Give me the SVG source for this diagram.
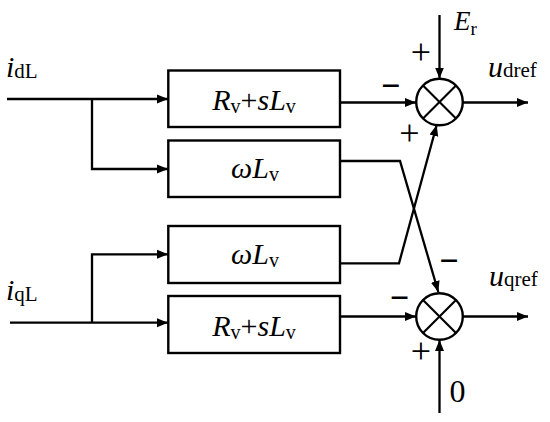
<svg xmlns="http://www.w3.org/2000/svg" width="550" height="422" viewBox="0 0 550 422">
<defs>
<marker id="arr" markerUnits="userSpaceOnUse" markerWidth="12" markerHeight="10" refX="11" refY="5" orient="auto">
<path d="M0,0.5 L11,5 L0,9.5 z" fill="#000"/>
</marker>
<style>
.ln{fill:none;stroke:#000;stroke-width:2.3;}
.box{fill:#fff;stroke:#000;stroke-width:2.4;}
.sum{fill:#fff;stroke:#000;stroke-width:2.4;}
.x{stroke:#000;stroke-width:2.2;}
text{font-family:"Liberation Serif","Times New Roman",serif;fill:#000;}
.bt{font-size:30px;}
.it{font-style:italic;}
.bs{font-size:20px;font-style:normal;}
.lb{font-size:30px;}
.ls{font-size:21px;font-style:normal;}
.pm{font-size:36px;}
.mn{font-size:34px;font-weight:bold;}
</style>
</defs>
<rect width="550" height="422" fill="#fff"/>

<g id="connectors">
<path class="ln" d="M7,99 H168" marker-end="url(#arr)"/>
<path class="ln" d="M92,99 V169 H168" marker-end="url(#arr)"/>
<path class="ln" d="M10,322.7 H168" marker-end="url(#arr)"/>
<path class="ln" d="M92,322.7 V254.3 H168" marker-end="url(#arr)"/>
<path class="ln" d="M340,102.5 H416" marker-end="url(#arr)"/>
<path class="ln" d="M439.5,15 V78.5" marker-end="url(#arr)"/>
<path class="ln" d="M463,102.5 H528" marker-end="url(#arr)"/>
<path class="ln" d="M340,161 H400 L438.3,292" marker-end="url(#arr)"/>
<path class="ln" d="M340,263.3 H399 L436.7,125" marker-end="url(#arr)"/>
<path class="ln" d="M340,316.5 H416" marker-end="url(#arr)"/>
<path class="ln" d="M439.5,413 V340" marker-end="url(#arr)"/>
<path class="ln" d="M463,316.5 H528" marker-end="url(#arr)"/>
</g>

<g id="box1">
<rect class="box" x="168.3" y="70.5" width="171.7" height="56.5"/>
<text class="bt" x="254" y="110" text-anchor="middle"><tspan class="it">R</tspan><tspan class="bs" dy="3">v</tspan><tspan dy="-3">+</tspan><tspan class="it">s</tspan><tspan class="it">L</tspan><tspan class="bs" dy="3">v</tspan></text>
</g>
<g id="box2">
<rect class="box" x="168.3" y="140.5" width="171.7" height="56.5"/>
<text class="bt" x="255" y="178" text-anchor="middle"><tspan class="it">ωL</tspan><tspan class="bs" dy="3">v</tspan></text>
</g>
<g id="box3">
<rect class="box" x="168.3" y="226" width="171.7" height="57"/>
<text class="bt" x="255" y="264" text-anchor="middle"><tspan class="it">ωL</tspan><tspan class="bs" dy="3">v</tspan></text>
</g>
<g id="box4">
<rect class="box" x="168.3" y="296" width="171.7" height="57"/>
<text class="bt" x="254" y="336" text-anchor="middle"><tspan class="it">R</tspan><tspan class="bs" dy="3">v</tspan><tspan dy="-3">+</tspan><tspan class="it">s</tspan><tspan class="it">L</tspan><tspan class="bs" dy="3">v</tspan></text>
</g>

<g id="sum1">
<circle class="sum" cx="439.5" cy="102" r="23.3"/>
<line class="x" x1="423" y1="85.5" x2="456" y2="118.5"/>
<line class="x" x1="456" y1="85.5" x2="423" y2="118.5"/>
</g>
<g id="sum2">
<circle class="sum" cx="439.5" cy="316.5" r="23.3"/>
<line class="x" x1="423" y1="300" x2="456" y2="333"/>
<line class="x" x1="456" y1="300" x2="423" y2="333"/>
</g>

<g id="labels">
<text class="lb" x="6" y="77"><tspan class="it">i</tspan><tspan class="ls" dy="1">dL</tspan></text>
<text class="lb" x="6" y="300"><tspan class="it">i</tspan><tspan class="ls" dy="1">qL</tspan></text>
<text class="lb" x="488" y="77"><tspan class="it">u</tspan><tspan class="ls" dy="0">dref</tspan></text>
<text class="lb" x="489" y="286"><tspan class="it">u</tspan><tspan class="ls" dy="0">qref</tspan></text>
<text class="lb" x="454" y="30" style="font-size:27px"><tspan class="it">E</tspan><tspan class="ls" dy="5" style="font-size:19px">r</tspan></text>
<text class="bt" x="457.5" y="402" text-anchor="middle" style="font-size:32px">0</text>
</g>

<g id="signs">
<text class="pm" x="421" y="64" text-anchor="middle">+</text>
<text class="pm" x="409.5" y="144.5" text-anchor="middle">+</text>
<text class="pm" x="421" y="363" text-anchor="middle">+</text>
<text class="mn" x="390.8" y="96.5" text-anchor="middle">−</text>
<text class="mn" x="449" y="272" text-anchor="middle">−</text>
<text class="mn" x="399.5" y="309" text-anchor="middle">−</text>
</g>
</svg>
